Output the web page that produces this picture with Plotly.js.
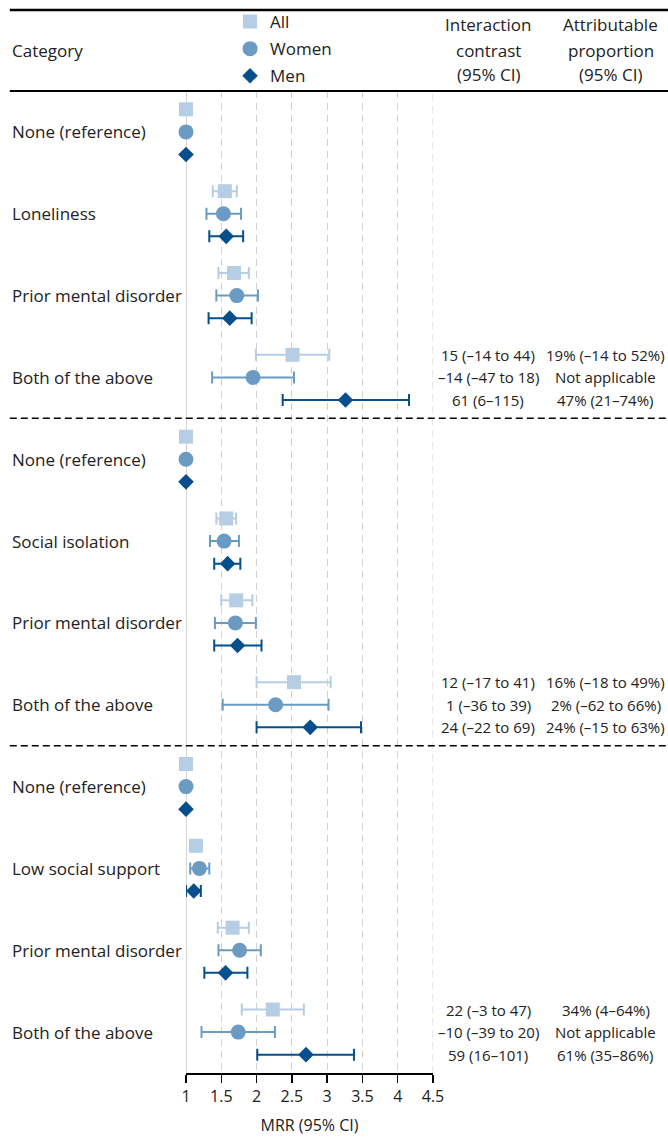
<!DOCTYPE html>
<html>
<head>
<meta charset="utf-8">
<script src="https://cdn.plot.ly/plotly-3.0.1.min.js"></script>
<style>html,body{margin:0;padding:0;background:#fff;}#chart{width:668px;height:1138px;}</style>
</head>
<body>
<div id="chart"></div>
<script>
const categories = ["None (reference)","Loneliness","Prior mental disorder","Both of the above",
  "None (reference)","Social isolation","Prior mental disorder","Both of the above",
  "None (reference)","Low social support","Prior mental disorder","Both of the above"];

const allMRR   = [1, 1.55, 1.68, 2.51, 1, 1.57, 1.71, 2.53, 1, 1.14, 1.66, 2.23];
const allLo    = [null, 1.38, 1.46, 1.99, null, 1.43, 1.50, 2.00, null, 1.07, 1.45, 1.79];
const allHi    = [null, 1.72, 1.89, 3.03, null, 1.71, 1.94, 3.05, null, 1.22, 1.89, 2.67];
const womenMRR = [1, 1.53, 1.72, 1.95, 1, 1.54, 1.70, 2.27, 1, 1.19, 1.76, 1.74];
const womenLo  = [null, 1.29, 1.43, 1.37, null, 1.34, 1.41, 1.52, null, 1.06, 1.46, 1.22];
const womenHi  = [null, 1.78, 2.02, 2.53, null, 1.75, 1.99, 3.02, null, 1.33, 2.06, 2.26];
const menMRR   = [1, 1.57, 1.62, 3.26, 1, 1.59, 1.73, 2.76, 1, 1.11, 1.56, 2.70];
const menLo    = [null, 1.33, 1.32, 2.37, null, 1.40, 1.40, 2.00, null, 1.00, 1.26, 2.01];
const menHi    = [null, 1.81, 1.93, 4.16, null, 1.77, 2.07, 3.48, null, 1.21, 1.87, 3.38];

const interRows = [3, 7, 11];
const icAll   = ["15 (–14 to 44)", "12 (–17 to 41)", "22 (–3 to 47)"];
const icWomen = ["–14 (–47 to 18)", "1 (–36 to 39)", "–10 (–39 to 20)"];
const icMen   = ["61 (6–115)", "24 (–22 to 69)", "59 (16–101)"];
const apAll   = ["19% (–14 to 52%)", "16% (–18 to 49%)", "34% (4–64%)"];
const apWomen = ["Not applicable", "2% (–62 to 66%)", "Not applicable"];
const apMen   = ["47% (21–74%)", "24% (–15 to 63%)", "61% (35–86%)"];

const xTicks = [1, 1.5, 2, 2.5, 3, 3.5, 4, 4.5];
const xTickText = ["1", "1.5", "2", "2.5", "3", "3.5", "4", "4.5"];

const FONT = "Open Sans, Noto Sans, sans-serif";
const TXT = "#222222";
const W = 668, H = 1138;
const L = 186, R = 432.7, T = 91, B = 1073;
const pw = R - L, ph = B - T;
const px2paperX = p => (p - L) / pw;
const px2paperY = p => (B - p) / ph;
const OFF = 0.276;

function errPlus(m, hi) { return m.map((v, i) => hi[i] == null ? NaN : hi[i] - v); }
function errMinus(m, lo) { return m.map((v, i) => lo[i] == null ? NaN : v - lo[i]); }
const idx = categories.map((c, i) => i);

function series(name, mrr, lo, hi, off, color, symbol, size) {
  return {
    type: "scatter", mode: "markers", name: name,
    x: mrr, y: idx.map(i => i + off),
    marker: {color: color, symbol: symbol, size: size, line: {width: 0}},
    error_x: {type: "data", symmetric: false, array: errPlus(mrr, hi), arrayminus: errMinus(mrr, lo),
      color: color, thickness: 2, width: 6},
    cliponaxis: false, legendgroup: name, hoverinfo: "skip"
  };
}

const traces = [
  series("All", allMRR, allLo, allHi, -OFF, "#b5cee3", "square", 14),
  series("Women", womenMRR, womenLo, womenHi, 0, "#6b9bc3", "circle", 15),
  series("Men", menMRR, menLo, menHi, OFF, "#064f8c", "diamond", 12)
];

const annotations = [];
categories.forEach((c, i) => {
  annotations.push({xref: "paper", yref: "y", x: px2paperX(10), y: i, text: c, showarrow: false,
    xanchor: "left", yanchor: "middle", font: {family: FONT, size: 17, color: TXT}});
});
interRows.forEach((r, k) => {
  const rows = [[icAll[k], apAll[k], -OFF], [icWomen[k], apWomen[k], 0], [icMen[k], apMen[k], OFF]];
  rows.forEach(([a, b, off]) => {
    annotations.push({xref: "paper", yref: "y", x: px2paperX(488), y: r + off, text: a, showarrow: false,
      xanchor: "center", yanchor: "middle", font: {family: FONT, size: 15, color: TXT}});
    annotations.push({xref: "paper", yref: "y", x: px2paperX(605), y: r + off, text: b, showarrow: false,
      xanchor: "center", yanchor: "middle", font: {family: FONT, size: 15, color: TXT}});
  });
});
// headers
annotations.push({xref: "paper", yref: "paper", x: px2paperX(10), y: px2paperY(50), text: "Category",
  showarrow: false, xanchor: "left", yanchor: "middle", font: {family: FONT, size: 17, color: TXT}});
[["Interaction", 25], ["contrast", 50], ["(95% CI)", 74]].forEach(([t, y]) => {
  annotations.push({xref: "paper", yref: "paper", x: px2paperX(488), y: px2paperY(y), text: t,
    showarrow: false, xanchor: "center", yanchor: "middle", font: {family: FONT, size: 17, color: TXT}});
});
[["Attributable", 25], ["proportion", 50], ["(95% CI)", 74]].forEach(([t, y]) => {
  annotations.push({xref: "paper", yref: "paper", x: px2paperX(610), y: px2paperY(y), text: t,
    showarrow: false, xanchor: "center", yanchor: "middle", font: {family: FONT, size: 17, color: TXT}});
});

const shapes = [
  {type: "line", xref: "paper", yref: "paper", x0: px2paperX(10), x1: px2paperX(668), y0: px2paperY(10), y1: px2paperY(10),
    line: {color: "#000", width: 2.5}},
  {type: "line", xref: "paper", yref: "paper", x0: px2paperX(10), x1: px2paperX(668), y0: px2paperY(91), y1: px2paperY(91),
    line: {color: "#000", width: 2}},
  {type: "line", xref: "x", yref: "paper", x0: 1, x1: 1, y0: 0, y1: 1, layer: "below",
    line: {color: "#c8c8c8", width: 1.5}},
  {type: "line", xref: "x", yref: "paper", x0: 4.5, x1: 4.5, y0: 0, y1: 1, layer: "below",
    line: {color: "#d0d0d0", width: 1, dash: "7px,5px"}},
  {type: "line", xref: "paper", yref: "y", x0: px2paperX(10), x1: px2paperX(668), y0: 3.5, y1: 3.5,
    line: {color: "#000", width: 1.5, dash: "7px,4px"}},
  {type: "line", xref: "paper", yref: "y", x0: px2paperX(10), x1: px2paperX(668), y0: 7.5, y1: 7.5,
    line: {color: "#000", width: 1.5, dash: "7px,4px"}}
];

const layout = {
  width: W, height: H,
  margin: {l: L, r: W - R, t: T, b: H - B, pad: 0, autoexpand: false},
  paper_bgcolor: "#fff", plot_bgcolor: "#fff",
  font: {family: FONT, color: TXT},
  showlegend: true,
  legend: {x: px2paperX(230), y: px2paperY(4), xanchor: "left", yanchor: "top",
    font: {family: FONT, size: 17, color: TXT}, tracegroupgap: 2, bgcolor: "rgba(0,0,0,0)",
    itemclick: false, itemdoubleclick: false},
  xaxis: {range: [1, 4.5], tickvals: xTicks, ticktext: xTickText, showgrid: true, gridcolor: "#d0d0d0",
    griddash: "7px,5px", gridwidth: 1, zeroline: false, showline: true, linecolor: "#000", linewidth: 1.5,
    ticks: "outside", ticklen: 8, tickwidth: 1.5, tickcolor: "#000",
    tickfont: {family: FONT, size: 16, color: TXT},
    title: {text: "MRR (95% CI)", font: {family: FONT, size: 16, color: TXT}, standoff: 14}},
  yaxis: {range: [11.5, -0.5], showgrid: false, zeroline: false, showticklabels: false, showline: false, ticks: ""},
  annotations: annotations, shapes: shapes
};

Plotly.newPlot("chart", traces, layout, {displayModeBar: false, staticPlot: true});
</script>
</body>
</html>
